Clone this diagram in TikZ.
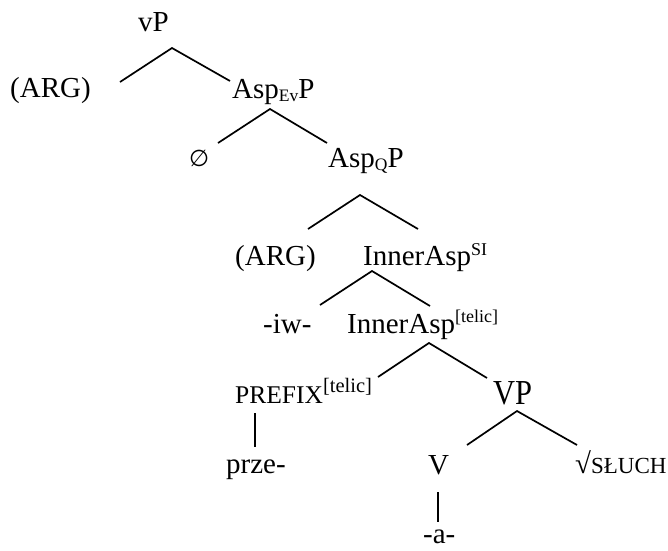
\documentclass[tikz,border=0pt]{standalone}
\usepackage{fontspec}
\setmainfont{Liberation Serif}
\newfontfamily\symfont{DejaVu Sans}
\newcommand\mysub[1]{\raisebox{-3.5pt}{\fontsize{17.5}{18}\selectfont #1}}
\begin{document}
\begin{tikzpicture}[x=1pt,y=-1pt,
  lbl/.style={inner sep=0pt, anchor=base west, font=\fontsize{29}{32}\selectfont},
  big/.style={lbl, font=\fontsize{30.5}{34}\selectfont},
  edge/.style={line width=1.7pt}]
\useasboundingbox (0,0) rectangle (668,550);
% labels
\node[lbl] (vP) at (138,31) {vP};
\node[lbl] (arg1) at (10,97) {(ARG)};
\node[lbl] (aspev) at (232,98) {Asp\mysub{Ev}P};
\node[lbl] (empty) at (189,166) {{\symfont\fontsize{23}{24}\selectfont ∅}};
\node[lbl] (aspq) at (328,167) {Asp\mysub{Q}P};
\node[lbl] (arg2) at (235,265) {(ARG)};
\node[lbl] (inSI) at (363,265) {InnerAsp\raisebox{9.5pt}{\fontsize{18}{18}\selectfont SI}};
\node[lbl] (iw) at (263,333) {-iw-};
\node[lbl] (intel) at (347,333) {InnerAsp\raisebox{10.5pt}{\fontsize{18}{18}\selectfont [telic]}};
\node[lbl, font=\fontsize{25.5}{28}\selectfont] (prefix) at (235,403) {PREFIX\raisebox{10.5pt}{\fontsize{20.5}{22}\selectfont [telic]}};
\node[big] (VP) at (493,404) {\scalebox{1}[1.15]{VP}};
\node[lbl] (prze) at (226,473) {prze-};
\node[lbl] (V) at (428,474) {V};
\node[lbl] (root) at (575,473) {√\fontsize{23}{24}\selectfont SŁUCH};
\node[lbl] (a) at (423,543) {-a-};
% edge end points
\coordinate (t1) at (172,48); \coordinate (l1) at (120,82); \coordinate (r1) at (230,81);
\coordinate (t2) at (270,109); \coordinate (l2) at (218,143); \coordinate (r2) at (327,143);
\coordinate (t3) at (360,195); \coordinate (l3) at (308,229); \coordinate (r3) at (418,229);
\coordinate (t4) at (372,271); \coordinate (l4) at (320,305); \coordinate (r4) at (430,306);
\coordinate (t5) at (429,343); \coordinate (l5) at (378,377); \coordinate (r5) at (487,378);
\coordinate (t6) at (517,411); \coordinate (l6) at (467,445); \coordinate (r6) at (577,445);
\coordinate (p1) at (255,413); \coordinate (p2) at (255,447);
\coordinate (v1) at (438,492); \coordinate (v2) at (438,522);
\draw[edge] (l1) -- (t1) -- (r1);
\draw[edge] (l2) -- (t2) -- (r2);
\draw[edge] (l3) -- (t3) -- (r3);
\draw[edge] (l4) -- (t4) -- (r4);
\draw[edge] (l5) -- (t5) -- (r5);
\draw[edge] (l6) -- (t6) -- (r6);
\draw[edge] (p1) -- (p2);
\draw[edge] (v1) -- (v2);
\end{tikzpicture}
\end{document}
